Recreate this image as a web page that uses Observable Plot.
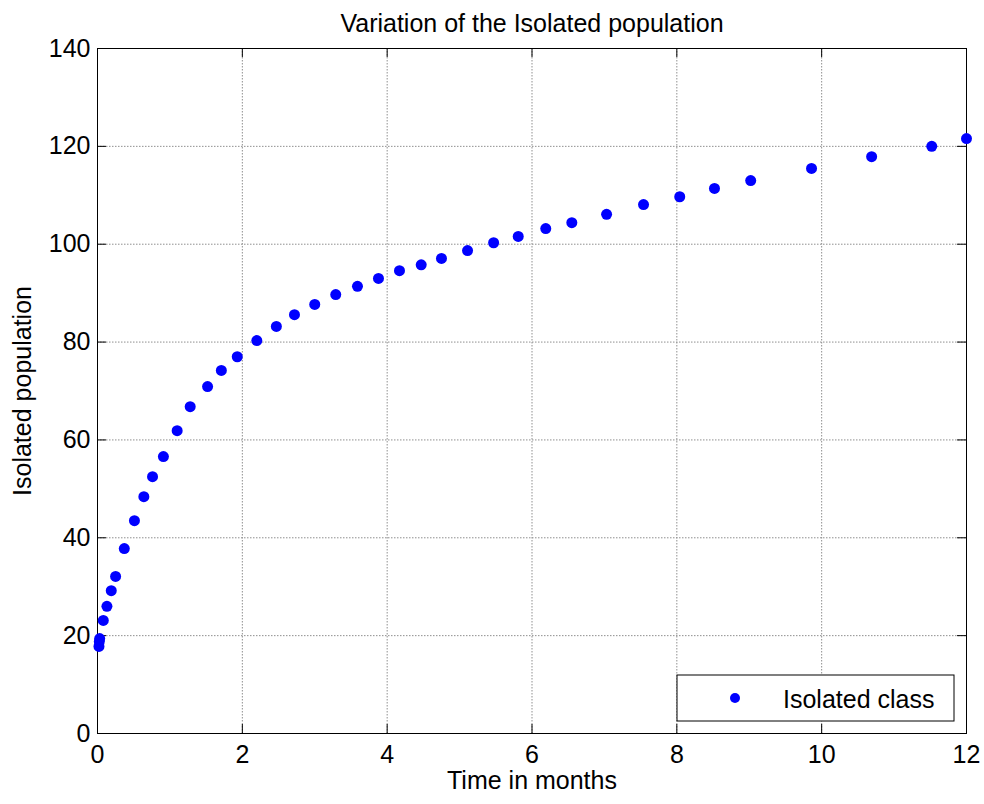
<!DOCTYPE html>
<html>
<head>
<meta charset="utf-8">
<script src="https://cdn.jsdelivr.net/npm/d3@7"></script>
<script src="https://cdn.jsdelivr.net/npm/@observablehq/plot@0.6"></script>
<style>
  html, body { margin: 0; padding: 0; background: #fff; }
  #chart svg { display: block; }
</style>
</head>
<body>
<div id="chart"></div>
<script>
// ---- data ----
const timeMonths = [0.02, 0.025, 0.03, 0.08, 0.13, 0.19, 0.25, 0.37, 0.51, 0.64, 0.76, 0.91, 1.10, 1.28, 1.52, 1.71, 1.93, 2.20, 2.47, 2.72, 3.00, 3.29, 3.59, 3.88, 4.17, 4.47, 4.75, 5.11, 5.47, 5.81, 6.19, 6.55, 7.03, 7.54, 8.04, 8.52, 9.02, 9.86, 10.69, 11.52, 12.0];
const isolatedPop = [17.8, 18.8, 19.4, 23.1, 26.0, 29.2, 32.1, 37.8, 43.5, 48.4, 52.5, 56.6, 61.9, 66.8, 70.9, 74.2, 77.0, 80.3, 83.2, 85.6, 87.7, 89.7, 91.4, 93.0, 94.6, 95.8, 97.1, 98.7, 100.3, 101.6, 103.2, 104.4, 106.1, 108.1, 109.7, 111.4, 113.0, 115.5, 117.9, 120.0, 121.6];
const xTicks = [0, 2, 4, 6, 8, 10, 12];
const yTicks = [0, 20, 40, 60, 80, 100, 120, 140];
const titleText = "Variation of the Isolated population";
const xLabel = "Time in months";
const yLabel = "Isolated population";
const legendLabel = "Isolated class";

const data = timeMonths.map((t, i) => ({t, v: isolatedPop[i]}));

const W = 984, H = 804, mL = 97, mR = 18, mT = 48, mB = 71;
const fw = W - mL - mR, fh = H - mT - mB, tick = 9;
const font = "'Liberation Sans', Arial, Helvetica, sans-serif";
const gridStyle = {stroke: "#8f8f8f", strokeOpacity: 1, strokeDasharray: "1.5,1.5", strokeWidth: 1};

const chart = Plot.plot({
  width: W, height: H,
  marginLeft: mL, marginRight: mR, marginTop: mT, marginBottom: mB,
  style: {fontFamily: font, background: "#fff", color: "#000", fontSize: "25px"},
  x: {domain: [0, 12], label: null},
  y: {domain: [0, 140], label: null},
  marks: [
    Plot.ruleX(xTicks, gridStyle),
    Plot.ruleY(yTicks, gridStyle),
    // inward ticks on all four sides
    Plot.ruleX(xTicks, {insetTop: fh - tick, stroke: "#000"}),
    Plot.ruleX(xTicks, {insetBottom: fh - tick, stroke: "#000"}),
    Plot.ruleY(yTicks, {insetRight: fw - tick, stroke: "#000"}),
    Plot.ruleY(yTicks, {insetLeft: fw - tick, stroke: "#000"}),
    Plot.axisX({ticks: xTicks, tickSize: 0, tickPadding: 12, fontSize: 25, label: null}),
    Plot.axisY({ticks: yTicks, tickSize: 0, tickPadding: 7, fontSize: 25, label: null}),
    Plot.frame({stroke: "#000", strokeWidth: 1}),
    Plot.dot(data, {x: "t", y: "v", r: 5.5, fill: "#0000ff", stroke: null}),
    Plot.text([titleText], {text: d => d, frameAnchor: "top", dy: -25, textAnchor: "middle", lineAnchor: "middle", fontSize: 25}),
    Plot.text([xLabel], {text: d => d, frameAnchor: "bottom", dy: 47, textAnchor: "middle", lineAnchor: "middle", fontSize: 25}),
    Plot.text([yLabel], {text: d => d, frameAnchor: "left", dx: -75, rotate: -90, textAnchor: "middle", lineAnchor: "middle", fontSize: 25})
  ]
});

// legend box (bottom-right, inside the frame)
const svg = d3.select(chart);
const lg = svg.append("g").attr("font-family", font).attr("text-anchor", "start");
const bx = 677, by = 675, bw = 277, bh = 46;
lg.append("rect").attr("x", bx).attr("y", by).attr("width", bw).attr("height", bh)
  .attr("fill", "#fff").attr("stroke", "#000").attr("stroke-width", 1);
lg.append("circle").attr("cx", bx + 58).attr("cy", by + bh / 2).attr("r", 5).attr("fill", "#0000ff");
lg.append("text").attr("x", bx + 106).attr("y", by + bh / 2 + 1).attr("dy", "0.35em")
  .attr("text-anchor", "start").attr("font-size", 25).attr("fill", "#000").text(legendLabel);

document.getElementById("chart").appendChild(chart);
</script>
</body>
</html>
